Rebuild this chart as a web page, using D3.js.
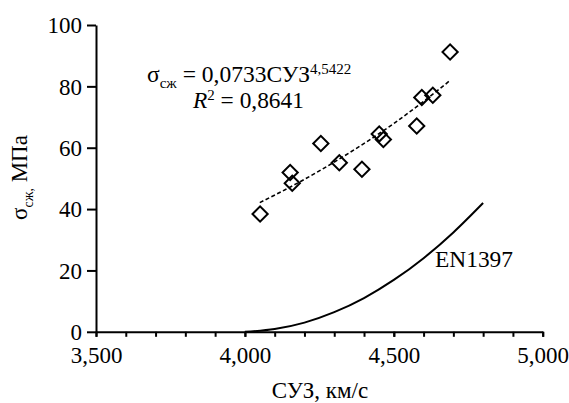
<!DOCTYPE html>
<html>
<head>
<meta charset="utf-8">
<script src="https://cdn.jsdelivr.net/npm/d3@7"></script>
<style>
    body { margin: 0; background: #fff; }
</style>
</head>
<body>
<svg id="chart" width="569" height="403"></svg>
<script>
    // measured points: ultrasonic pulse velocity (СУЗ) vs compressive strength
    var speedValues = [4051, 4152, 4159, 4255, 4317, 4393, 4451, 4465, 4577, 4594, 4631, 4689];
    var strengthValues = [38.4, 51.9, 48.4, 61.4, 55.1, 53.0, 64.5, 62.7, 67.1, 76.4, 77.1, 91.2];

    // dashed power trend line
    var trendSpeed = [4050, 4200, 4350, 4500, 4600, 4690];
    var trendStrength = [42.1, 49.7, 58.3, 67.9, 75.1, 82.0];

    // EN1397 curve
    var enSpeed = [4000, 4100, 4200, 4300, 4400, 4500, 4600, 4700, 4800];
    var enStrength = [0, 0.9, 3.0, 6.4, 11.0, 16.9, 24.0, 32.4, 42.0];

    var xTicks = [3500, 4000, 4500, 5000];
    var xMinorTicks = d3.range(3500, 5001, 100);
    var yTicks = [0, 20, 40, 60, 80, 100];

    var serif = "'Liberation Serif', 'Times New Roman', serif";

    var svg = d3.select("#chart");

    var x = d3.scaleLinear().domain([3500, 5000]).range([96, 542.7]);
    var y = d3.scaleLinear().domain([0, 100]).range([331.8, 25]);

    var fmt = function(d) { return d3.format(",")(d); };

    // x axis: minor ticks, then labelled major ticks
    var xAxisG = svg.append("g").attr("transform", "translate(0," + y(0) + ")");
    xAxisG.append("g")
        .call(d3.axisBottom(x).tickValues(xMinorTicks).tickSize(5).tickFormat(""))
        .call(function(g) { g.select(".domain").remove(); });
    xAxisG.append("g")
        .call(d3.axisBottom(x).tickValues(xTicks).tickSize(5).tickSizeOuter(0).tickPadding(10).tickFormat(fmt));

    var yAxisG = svg.append("g").attr("transform", "translate(" + x(3500) + ",0)")
        .call(d3.axisLeft(y).tickValues(yTicks).tickSize(9).tickSizeOuter(0).tickPadding(5));

    svg.selectAll(".domain, .tick line")
        .attr("stroke", "#000")
        .attr("stroke-width", 2);
    xAxisG.selectAll(".tick text").attr("dy", "0.71em");
    yAxisG.selectAll(".tick text").attr("dy", "0.34em");

    // EN1397 curve
    var line = d3.line()
        .x(function(d) { return x(d[0]); })
        .y(function(d) { return y(d[1]); })
        .curve(d3.curveMonotoneX);

    svg.append("path")
        .datum(d3.zip(enSpeed, enStrength))
        .attr("d", line)
        .attr("fill", "none")
        .attr("stroke", "#000")
        .attr("stroke-width", 2);

    // trend line
    svg.append("path")
        .datum(d3.zip(trendSpeed, trendStrength))
        .attr("d", line)
        .attr("fill", "none")
        .attr("stroke", "#000")
        .attr("stroke-width", 1.6)
        .attr("stroke-dasharray", "4,2.5");

    // diamond markers
    var diamond = d3.symbol().type(d3.symbolSquare).size(116);
    svg.selectAll("path.pt")
        .data(d3.zip(speedValues, strengthValues))
        .enter().append("path")
        .attr("class", "pt")
        .attr("d", diamond)
        .attr("transform", function(d) { return "translate(" + x(d[0]) + "," + y(d[1]) + ") rotate(45)"; })
        .attr("fill", "none")
        .attr("stroke", "#000")
        .attr("stroke-width", 2);

    // builds a line of text from [text, relSize, baselineShift, italic] parts,
    // then rescales it so it spans the width seen in the reference
    function richText(x0, y0, base, parts, targetWidth) {
        var t = svg.append("text").attr("x", x0).attr("y", y0)
            .style("font-family", serif);
        var spans = parts.map(function(p) {
            return t.append("tspan").text(p[0]).datum(p);
        });
        function apply(size) {
            spans.forEach(function(s, i) {
                var p = s.datum(), prev = i ? parts[i - 1][2] : 0;
                s.style("font-size", (size * p[1]) + "px")
                    .attr("dy", (p[2] - prev) * size)
                    .style("font-style", p[3] ? "italic" : null);
            });
        }
        apply(base);
        var w = t.node().getComputedTextLength();
        apply(base * targetWidth / w);
        return t;
    }

    // equation
    richText(147, 81.5, 22, [
        ["σ", 1, 0],
        ["сж", 0.64, 0.28],
        [" = 0,0733СУЗ", 1, 0],
        ["4,5422", 0.64, -0.33]
    ], 204.5);

    richText(193, 108.3, 22, [
        ["R", 1, 0, true],
        ["2", 0.64, -0.36],
        [" = 0,8641", 1, 0]
    ], 111);

    // EN1397 label
    svg.append("text")
        .attr("x", 435)
        .attr("y", 266.7)
        .style("font-size", "23.4px")
        .text("EN1397");

    // axis titles
    svg.append("text")
        .attr("x", 320)
        .attr("y", 398)
        .attr("text-anchor", "middle")
        .style("font-size", "23px")
        .text("СУЗ, км/с");

    var yt = svg.append("text")
        .attr("transform", "translate(27,177.5) rotate(-90)")
        .attr("text-anchor", "middle")
        .style("font-size", "23px");
    yt.append("tspan").text("σ");
    yt.append("tspan").attr("dy", 6).style("font-size", "14px").text("сж,");
    yt.append("tspan").attr("dy", -6).text(" МПа");

    // one serif face everywhere, set directly on each text
    svg.selectAll("g").attr("font-family", null);
    svg.selectAll("text")
        .style("font-family", serif)
        .attr("fill", "#000");
    svg.selectAll(".tick text").style("font-size", "23px");
</script>
</body>
</html>
